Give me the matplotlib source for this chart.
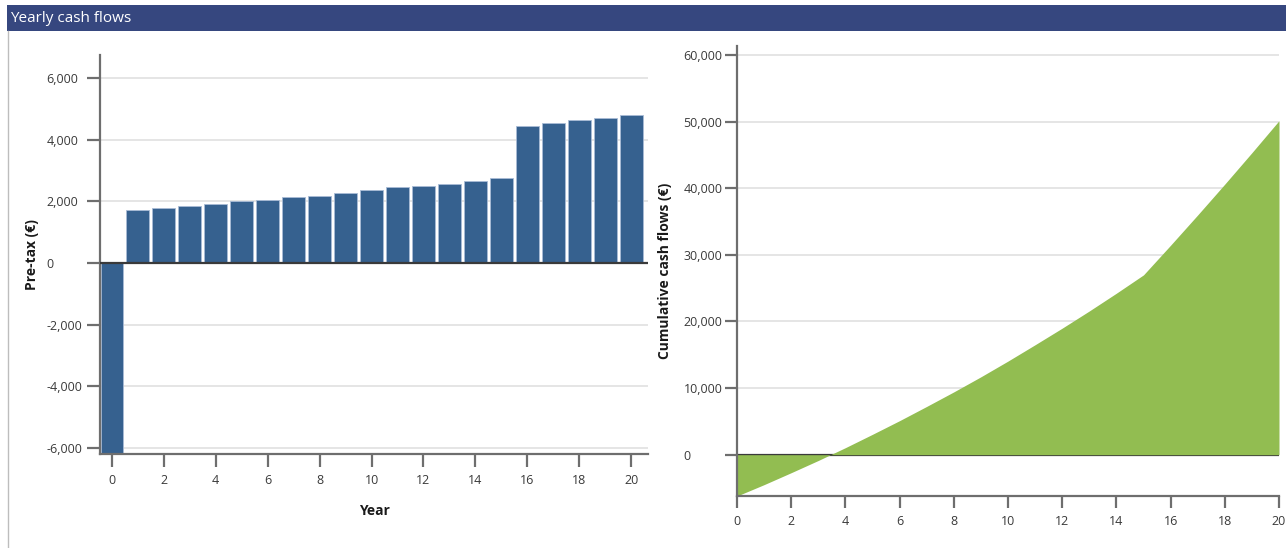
import matplotlib
matplotlib.use('Agg')
import matplotlib.pyplot as plt
import matplotlib.patches as patches
from matplotlib.ticker import FuncFormatter
import numpy as np

plt.rcParams['font.family'] = ['Open Sans', 'DejaVu Sans']

# Flujos anuales antes de impuestos (EUR)
years = list(range(0, 21))
pretax = [-6200, 1705, 1793, 1835, 1922, 2006, 2050, 2136, 2180, 2265, 2362,
          2450, 2492, 2579, 2667, 2751, 4456, 4543, 4628, 4716, 4803]
cumulative = np.cumsum(pretax)

left_yticks = [-6000, -4000, -2000, 0, 2000, 4000, 6000]
right_yticks = [0, 10000, 20000, 30000, 40000, 50000, 60000]
xticks = list(range(0, 21, 2))

title = 'Yearly cash flows'
left_ylabel = 'Pre-tax (€)'
right_ylabel = 'Cumulative cash flows (€)'
xlabel = 'Year'

BAR = '#36618F'
GREEN = '#92BD51'
NAVY = '#36477F'
AXIS = '#6E6E6E'
GRID = '#E3E3E3'
TXT = '#3A3A3A'

fmt = FuncFormatter(lambda v, p: f'{int(v):,}')

fig = plt.figure(figsize=(12.86, 5.48), dpi=100)
fig.patch.set_facecolor('white')

# Barra de titulo
fig.add_artist(patches.Rectangle((7 / 1286, 1 - 31 / 548), 1, 26 / 548,
                                 transform=fig.transFigure, fc=NAVY, ec='none'))
fig.text(10 / 1286, 1 - 18.5 / 548, title, color='white', fontsize=11,
         ha='left', va='center')
fig.add_artist(plt.Line2D([7.5 / 1286, 7.5 / 1286], [0, 1 - 31 / 548],
                          transform=fig.transFigure, color='#BDBDBD', lw=1))


def style_axes(ax, pad, tick_len):
    for s in ['top', 'right']:
        ax.spines[s].set_visible(False)
    for s in ['left', 'bottom']:
        ax.spines[s].set_color(AXIS)
        ax.spines[s].set_linewidth(1.6)
    ax.tick_params(axis='both', colors=AXIS, width=1.6, length=tick_len,
                   labelcolor=TXT, labelsize=9)
    ax.tick_params(axis='y', pad=pad)
    ax.tick_params(axis='x', pad=5)
    for lab in ax.get_yticklabels():
        lab.set_horizontalalignment('left')
    ax.yaxis.grid(True, color=GRID, lw=1.3)
    ax.set_axisbelow(True)


# Grafico izquierdo: barras anuales
ax1 = fig.add_axes([100 / 1286, 1 - 454 / 548, 548 / 1286, 399 / 548])
ax1.bar(years, pretax, width=0.88, color=BAR, edgecolor='#A9BCD6', lw=0.6, zorder=2)
ax1.axhline(0, color='#3A3A3A', lw=1.6, zorder=3)
ax1.set_xlim(-0.46, 20.65)
ax1.set_ylim(pretax[0], 6750)
ax1.set_yticks(left_yticks)
ax1.set_xticks(xticks)
ax1.yaxis.set_major_formatter(fmt)
style_axes(ax1, pad=29, tick_len=9.5)
ax1.set_ylabel(left_ylabel, fontsize=10, fontweight='bold', color='#1A1A1A')
ax1.yaxis.set_label_coords(-0.111, 0.5)
ax1.set_xlabel(xlabel, fontsize=10, fontweight='bold', color='#1A1A1A', labelpad=12)

# Grafico derecho: flujo acumulado
ax2 = fig.add_axes([737 / 1286, 1 - 496 / 548, 542 / 1286, 450 / 548])
ax2.axhline(0, color='#3A3A3A', lw=1.6, zorder=1)
ax2.fill_between(years, cumulative, 0, color=GREEN, lw=0, zorder=2)
ax2.set_xlim(0, 20)
ax2.set_ylim(cumulative[0], 61350)
ax2.set_yticks(right_yticks)
ax2.set_xticks(xticks)
ax2.yaxis.set_major_formatter(fmt)
style_axes(ax2, pad=30, tick_len=8.5)
ax2.set_ylabel(right_ylabel, fontsize=10, fontweight='bold', color='#1A1A1A')
ax2.yaxis.set_label_coords(-0.12, 0.5)

fig.savefig('out.png', dpi=100, facecolor='white')
